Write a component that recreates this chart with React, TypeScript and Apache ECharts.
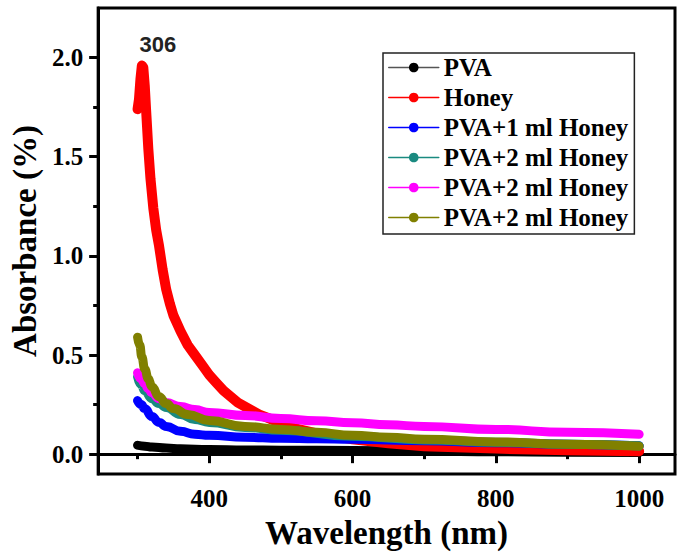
import React, { useEffect, useRef } from "react";
import * as echarts from "echarts";

// Wavelength (nm) / absorbance readings per sample
const pvaX = [300, 310, 320, 340, 360, 400, 450, 500, 600, 700, 800, 900, 1000];
const pvaY = [0.045, 0.04, 0.036, 0.031, 0.027, 0.023, 0.021, 0.02, 0.019, 0.016, 0.012, 0.01, 0.008];

const honeyX = [300, 302, 304, 306, 308, 310, 312, 315, 318, 322, 326, 330, 335, 340, 345, 350, 360, 370, 380, 390, 400, 410, 420, 430, 440, 450, 460, 470, 480, 490, 500, 520, 550, 600, 650, 700, 800, 900, 1000];
const honeyY = [1.74, 1.79, 1.89, 1.96, 1.95, 1.86, 1.73, 1.54, 1.39, 1.24, 1.13, 1.05, 0.93, 0.83, 0.76, 0.7, 0.62, 0.55, 0.5, 0.45, 0.4, 0.36, 0.32, 0.29, 0.26, 0.24, 0.22, 0.2, 0.185, 0.17, 0.155, 0.13, 0.105, 0.075, 0.055, 0.04, 0.028, 0.02, 0.015];

const blueX = [300, 305, 310, 320, 330, 340, 360, 380, 400, 450, 500, 550, 600, 700, 800, 900, 1000];
const blueY = [0.27, 0.25, 0.23, 0.19, 0.16, 0.14, 0.115, 0.1, 0.095, 0.085, 0.08, 0.078, 0.075, 0.068, 0.058, 0.05, 0.042];

const tealX = [300, 305, 310, 320, 330, 340, 360, 380, 400, 450, 500, 600, 700, 800, 900, 1000];
const tealY = [0.39, 0.35, 0.32, 0.28, 0.255, 0.235, 0.2, 0.175, 0.16, 0.135, 0.12, 0.09, 0.072, 0.06, 0.05, 0.042];

const pinkX = [300, 305, 310, 315, 320, 330, 340, 360, 380, 400, 450, 500, 550, 600, 650, 700, 800, 900, 1000];
const pinkY = [0.41, 0.38, 0.355, 0.33, 0.31, 0.28, 0.26, 0.24, 0.225, 0.21, 0.195, 0.18, 0.168, 0.158, 0.148, 0.14, 0.125, 0.11, 0.1];

const oliveX = [300, 303, 306, 310, 315, 320, 330, 340, 350, 370, 400, 450, 500, 550, 600, 650, 700, 800, 900, 1000];
const oliveY = [0.59, 0.55, 0.49, 0.43, 0.38, 0.34, 0.29, 0.255, 0.23, 0.2, 0.17, 0.14, 0.125, 0.11, 0.095, 0.085, 0.075, 0.062, 0.05, 0.04];

const seriesNames = ["PVA", "Honey", "PVA+1 ml Honey", "PVA+2 ml Honey", "PVA+2 ml Honey ", "PVA+2 ml Honey  "];
const xMajor = [400, 600, 800, 1000];
const xMinor = [300, 500, 700, 900];
const yMajor = [0, 0.5, 1, 1.5, 2];
const yMinor = [0.25, 0.75, 1.25, 1.75];
const peakLabel = { x: 306, y: 1.96, text: "306" };

const zip = (xs: number[], ys: number[]) => xs.map((x, i) => [x, ys[i]]);

export default function App() {
  const ref = useRef<HTMLDivElement>(null);
  useEffect(() => {
    const chart = echarts.init(ref.current!, null, { renderer: "svg" });
    const serif = "'Liberation Serif', 'Times New Roman', serif";
    const mk = (name: string, color: string, xs: number[], ys: number[], width: number, smooth: boolean, extra: any = {}) => ({
      type: "line",
      name,
      data: zip(xs, ys),
      showSymbol: false,
      symbol: "circle",
      symbolSize: 10,
      smooth,
      smoothMonotone: "x",
      color,
      itemStyle: { color },
      lineStyle: { width, color, cap: "round", join: "round" },
      emphasis: { disabled: true },
      ...extra,
    });
    const axisLineStyle = { color: "#000", width: 3 };
    chart.setOption({
      animation: false,
      backgroundColor: "#fff",
      grid: { left: 95, right: 10, top: 8, bottom: 84, show: true, borderColor: "#000", borderWidth: 3 },
      legend: {
        orient: "vertical",
        left: 383,
        top: 53,
        itemWidth: 50,
        itemHeight: 12,
        itemGap: 5,
        padding: [2, 6, 4, 5],
        borderColor: "#222",
        borderWidth: 1.5,
        backgroundColor: "#fff",
        lineStyle: { width: 1.5 },
        formatter: (n: string) => n.trim(),
        textStyle: { fontFamily: serif, fontSize: 25, fontWeight: "bold", color: "#000", lineHeight: 24 },
        data: seriesNames.map((n, i) => (i === 0 ? { name: n, lineStyle: { color: "#555" } } : n)),
      },
      xAxis: [
        {
          type: "value",
          min: 245,
          max: 1050,
          position: "bottom",
          axisLine: { show: true, lineStyle: axisLineStyle },
          axisTick: { show: true, length: 9, lineStyle: axisLineStyle, customValues: xMajor },
          axisLabel: {
            customValues: xMajor,
            formatter: (v: number) => String(v),
            margin: 12,
            fontSize: 25,
            fontWeight: "bold",
            fontFamily: serif,
            color: "#000",
          },
          splitLine: { show: false },
          name: "Wavelength (nm)",
          nameLocation: "middle",
          nameGap: 42,
          nameTextStyle: { fontFamily: serif, fontSize: 33, fontWeight: "bold", color: "#000" },
        },
        {
          type: "value",
          min: 245,
          max: 1050,
          position: "bottom",
          axisLine: { show: false },
          axisTick: { show: true, length: 5, lineStyle: axisLineStyle, customValues: xMinor },
          axisLabel: { show: false },
          splitLine: { show: false },
        },
      ],
      yAxis: [
        {
          type: "value",
          min: -0.1,
          max: 2.25,
          position: "left",
          axisLine: { show: true, lineStyle: axisLineStyle },
          axisTick: { show: true, length: 9, lineStyle: axisLineStyle, customValues: yMajor },
          axisLabel: {
            customValues: yMajor,
            margin: 15,
            formatter: (v: number) => v.toFixed(1),
            fontSize: 25,
            fontWeight: "bold",
            fontFamily: serif,
            color: "#000",
          },
          splitLine: { show: false },
          name: "Absorbance (%)",
          nameLocation: "middle",
          nameGap: 48,
          nameTextStyle: { fontFamily: serif, fontSize: 33, fontWeight: "bold", color: "#000" },
        },
        {
          type: "value",
          min: -0.1,
          max: 2.25,
          position: "left",
          axisLine: { show: false },
          axisTick: { show: true, length: 5, lineStyle: axisLineStyle, customValues: yMinor },
          axisLabel: { show: false },
          splitLine: { show: false },
        },
      ],
      series: [
        mk(seriesNames[0], "#000000", pvaX, pvaY, 9, true),
        mk(seriesNames[1], "#ff0000", honeyX, honeyY, 10, false, {
          markPoint: {
            symbol: "circle",
            symbolSize: 0,
            data: [{ coord: [peakLabel.x, peakLabel.y], value: peakLabel.text }],
            label: {
              show: true,
              formatter: peakLabel.text,
              offset: [16, -21],
              fontSize: 22,
              fontWeight: "bold",
              fontFamily: "'Liberation Sans', Arial, sans-serif",
              color: "#222",
            },
          },
        }),
        mk(seriesNames[2], "#0000ff", blueX, blueY, 9, true),
        mk(seriesNames[3], "#1a8a80", tealX, tealY, 9, true),
        mk(seriesNames[4], "#ff00ff", pinkX, pinkY, 9, true),
        mk(seriesNames[5], "#808000", oliveX, oliveY, 9, true),
      ],
    });
    return () => chart.dispose();
  }, []);
  return <div ref={ref} style={{ position: "fixed", left: 0, top: 0, width: 685, height: 558, background: "#fff" }} />;
}
